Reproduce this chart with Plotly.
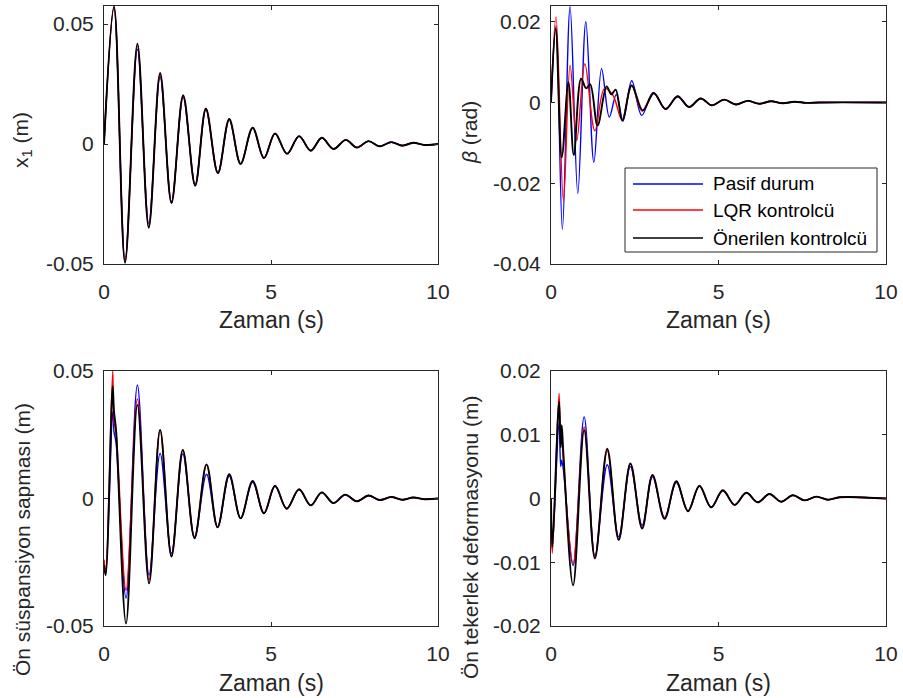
import plotly.graph_objects as go

# ---------------- data ----------------
series_names = ["Pasif durum", "LQR kontrolcü", "Önerilen kontrolcü"]
series_colors = ["#0000ff", "#ff0000", "#000000"]

x_tick_vals = [0, 5, 10]
x_tick_text = ["0", "5", "10"]

# Panel 1: x1 (m)
t_x1 = [0, 0.3, 0.63, 1.0, 1.34, 1.68, 2.02, 2.37, 2.73, 3.05, 3.41, 3.75, 4.09, 4.45, 4.79,
        5.12, 5.48, 5.84, 6.19, 6.52, 6.87, 7.24, 7.57, 7.92, 8.25, 8.6, 8.93, 9.26, 9.6, 10.0]
x1_pasif = [0, 0.0565, -0.0485, 0.0395, -0.0330, 0.0280, -0.0240, 0.0195, -0.0168, 0.0142, -0.0118,
            0.0100, -0.0082, 0.0066, -0.0058, 0.0043, -0.0040, 0.0032, -0.0027, 0.0025, -0.0020,
            0.0016, -0.0014, 0.0011, -0.0009, 0.0007, -0.0006, 0.0005, -0.0004, 0]
x1_lqr = [0, 0.0570, -0.0490, 0.0410, -0.0342, 0.0290, -0.0244, 0.0200, -0.0172, 0.0146, -0.0120,
          0.0102, -0.0083, 0.0067, -0.0058, 0.0044, -0.0040, 0.0033, -0.0028, 0.0025, -0.0021,
          0.0017, -0.0015, 0.0012, -0.0010, 0.0008, -0.0006, 0.0005, -0.0004, 0]
x1_oner = [0, 0.0573, -0.0495, 0.0418, -0.0349, 0.0296, -0.0246, 0.0203, -0.0174, 0.0148, -0.0122,
           0.0104, -0.0083, 0.0068, -0.0059, 0.0044, -0.0041, 0.0033, -0.0028, 0.0026, -0.0021,
           0.0017, -0.0015, 0.0012, -0.0010, 0.0008, -0.0007, 0.0005, -0.0004, 0]
x1_ticks = [-0.05, 0, 0.05]
x1_ticktext = ["-0.05", "0", "0.05"]

# Panel 2: beta (rad)
t_beta_pasif = [0, 0.15, 0.34, 0.57, 0.8, 1.04, 1.28, 1.51, 1.74, 1.95, 2.15, 2.41, 2.71, 3.05,
                3.42, 3.78, 4.12, 4.47, 4.8, 5.17, 5.52, 5.87, 6.22, 6.57, 6.92, 7.27, 7.62, 8.0, 10.0]
beta_pasif = [0, 0.0190, -0.0314, 0.0237, -0.0225, 0.0200, -0.0148, 0.0084, -0.0036, 0.0020,
              -0.0046, 0.0054, -0.0032, 0.0025, -0.0017, 0.0016, -0.0011, 0.0010, -0.0007, 0.0007,
              -0.0005, 0.0004, -0.0003, 0.0003, -0.0002, 0.0002, -0.0001, 0, 0]
t_beta_lqr = [0, 0.15, 0.37, 0.57, 0.77, 1.01, 1.31, 1.6, 1.85, 2.12, 2.4, 2.72, 3.06, 3.42, 3.78,
              4.12, 4.47, 4.8, 5.17, 5.52, 5.87, 6.22, 6.57, 6.92, 7.27, 7.62, 8.0, 10.0]
beta_lqr = [0, 0.0212, -0.0243, 0.0092, -0.0094, 0.0096, -0.0070, 0.0035, 0.0018, -0.0043, 0.0043,
            -0.0021, 0.0023, -0.0016, 0.0015, -0.0011, 0.0010, -0.0007, 0.0007, -0.0005, 0.0004,
            -0.0003, 0.0003, -0.0002, 0.0002, -0.0001, 0, 0]
t_beta_oner = [0, 0.14, 0.32, 0.52, 0.68, 0.9, 1.05, 1.17, 1.39, 1.66, 1.8, 1.93, 2.13, 2.41, 2.74,
               3.07, 3.42, 3.78, 4.12, 4.47, 4.8, 5.17, 5.52, 5.87, 6.22, 6.57, 6.92, 7.27, 7.62,
               8.0, 10.0]
beta_oner = [0, 0.0183, -0.0136, 0.0050, -0.0130, 0.0059, 0.0035, 0.0045, -0.0057, 0.0040, 0.0020,
             0.0032, -0.0045, 0.0042, -0.0020, 0.0023, -0.0016, 0.0015, -0.0011, 0.0010, -0.0007,
             0.0007, -0.0005, 0.0004, -0.0003, 0.0003, -0.0002, 0.0002, -0.0001, 0, 0]
beta_ticks = [-0.04, -0.02, 0, 0.02]
beta_ticktext = ["-0.04", "-0.02", "0", "0.02"]

# Panel 3: front suspension deflection (m)
t_susp = [0, 0.05, 0.26, 0.30, 0.36, 0.66, 1.0, 1.35, 1.68, 2.02, 2.36, 2.71, 3.07, 3.4, 3.75, 4.09,
          4.45, 4.79, 5.12, 5.47, 5.84, 6.19, 6.52, 6.87, 7.22, 7.57, 7.92, 8.25, 8.6, 8.93, 9.26,
          9.6, 10.0]
susp_pasif = [-0.026, -0.030, 0.034, 0.026, 0.022, -0.039, 0.0445, -0.030, 0.0177, -0.0215, 0.0175,
              -0.0150, 0.0095, -0.0112, 0.0088, -0.0078, 0.0064, -0.0058, 0.0048, -0.0040, 0.0034,
              -0.0027, 0.0023, -0.0018, 0.0014, -0.0011, 0.0011, -0.0006, 0.0006, -0.0005, 0.0004,
              -0.0003, 0]
susp_lqr = [-0.024, -0.028, 0.050, 0.030, 0.026, -0.036, 0.039, -0.032, 0.027, -0.0225, 0.019,
            -0.0155, 0.0132, -0.0112, 0.0094, -0.0078, 0.0068, -0.0058, 0.0050, -0.0040, 0.0035,
            -0.0027, 0.0024, -0.0018, 0.0015, -0.0011, 0.0012, -0.0006, 0.0006, -0.0005, 0.0004,
            -0.0003, 0]
susp_oner = [-0.026, -0.030, 0.044, 0.034, 0.027, -0.049, 0.0367, -0.0333, 0.0269, -0.0228, 0.019,
             -0.0156, 0.0134, -0.0113, 0.0095, -0.0078, 0.0069, -0.0058, 0.0050, -0.0040, 0.0036,
             -0.0027, 0.0024, -0.0018, 0.0015, -0.0011, 0.0012, -0.0006, 0.0006, -0.0005, 0.0004,
             -0.0003, 0]
susp_ticks = [-0.05, 0, 0.05]
susp_ticktext = ["-0.05", "0", "0.05"]

# Panel 4: front tyre deflection (m)
t_tyre = [0, 0.04, 0.24, 0.29, 0.32, 0.37, 0.66, 0.99, 1.31, 1.68, 2.02, 2.37, 2.72, 3.03, 3.39,
          3.74, 4.09, 4.43, 4.78, 5.13, 5.48, 5.83, 6.17, 6.52, 6.87, 7.22, 7.57, 7.92, 8.27, 8.62,
          10.0]
tyre_pasif = [0, -0.0080, 0.0120, 0.0050, 0.0060, 0.0045, -0.0105, 0.0128, -0.0090, 0.0053, -0.0060,
              0.0050, -0.0042, 0.0034, -0.0030, 0.0025, -0.0019, 0.0019, -0.0013, 0.0012, -0.0010,
              0.0009, -0.0006, 0.0007, -0.0005, 0.0005, -0.0003, 0.0003, -0.0002, 0.0002, 0]
tyre_lqr = [0, -0.0086, 0.0165, 0.0085, 0.0100, 0.0060, -0.0102, 0.0112, -0.0092, 0.0075, -0.0064,
            0.0054, -0.0046, 0.0036, -0.0031, 0.0026, -0.0020, 0.0020, -0.0014, 0.0013, -0.0010,
            0.0009, -0.0006, 0.0007, -0.0005, 0.0005, -0.0003, 0.0003, -0.0002, 0.0002, 0]
tyre_oner = [0, -0.0076, 0.0152, 0.0080, 0.0115, 0.0070, -0.0136, 0.0107, -0.0094, 0.0078, -0.0065,
             0.0055, -0.0047, 0.0037, -0.0032, 0.0027, -0.0020, 0.0020, -0.0014, 0.0013, -0.0010,
             0.0009, -0.0006, 0.0007, -0.0005, 0.0005, -0.0003, 0.0003, -0.0002, 0.0002, 0]
tyre_ticks = [-0.02, -0.01, 0, 0.01, 0.02]
tyre_ticktext = ["-0.02", "-0.01", "0", "0.01", "0.02"]

x_title = "Zaman (s)"
y_titles = ["x<sub>1</sub> (m)", "<i>β</i> (rad)", "Ön süspansiyon sapması (m)",
            "Ön tekerlek deformasyonu (m)"]

# ---------------- figure ----------------
W, H = 903, 698
FONT = "Liberation Sans, Arial, Helvetica, sans-serif"
AX = "#262626"
line_widths = [1.4, 1.4, 1.9]

fig = go.Figure()

panels = [
    ("x", "y", [(t_x1, x1_pasif), (t_x1, x1_lqr), (t_x1, x1_oner)]),
    ("x2", "y2", [(t_beta_pasif, beta_pasif), (t_beta_lqr, beta_lqr), (t_beta_oner, beta_oner)]),
    ("x3", "y3", [(t_susp, susp_pasif), (t_susp, susp_lqr), (t_susp, susp_oner)]),
    ("x4", "y4", [(t_tyre, tyre_pasif), (t_tyre, tyre_lqr), (t_tyre, tyre_oner)]),
]
for xa, ya, series in panels:
    for (tt, vv), name, col, lw in zip(series, series_names, series_colors, line_widths):
        fig.add_trace(go.Scatter(x=tt, y=vv, mode="lines", name=name, xaxis=xa, yaxis=ya,
                                 line=dict(color=col, width=lw, shape="spline", smoothing=1.0),
                                 showlegend=False, hoverinfo="skip"))


def px_x(p):
    return p / W


def px_y(p):
    return 1 - p / H


xdom_l = [px_x(104), px_x(438)]
xdom_r = [px_x(551), px_x(886)]
ydom_t = [px_y(264), px_y(6)]
ydom_b = [px_y(626), px_y(371)]

common = dict(showline=True, linecolor=AX, linewidth=1, mirror="ticks", ticks="inside",
              ticklen=4, tickcolor=AX, showgrid=False, zeroline=False, automargin=False,
              tickfont=dict(family=FONT, size=21, color=AX))


def xax(dom, anchor):
    return dict(domain=dom, anchor=anchor, range=[0, 10], tickvals=x_tick_vals,
                ticktext=x_tick_text, ticklabelstandoff=9, **common)


def yax(dom, anchor, rng, tv, tt):
    return dict(domain=dom, anchor=anchor, range=rng, tickvals=tv, ticktext=tt,
                ticklabelstandoff=5, **common)


fig.update_layout(
    width=W, height=H, margin=dict(l=0, r=0, t=0, b=0, pad=0, autoexpand=False),
    paper_bgcolor="white", plot_bgcolor="white", showlegend=False,
    xaxis=xax(xdom_l, "y"), yaxis=yax(ydom_t, "x", [-0.05, 0.0575], x1_ticks, x1_ticktext),
    xaxis2=xax(xdom_r, "y2"), yaxis2=yax(ydom_t, "x2", [-0.04, 0.0239], beta_ticks, beta_ticktext),
    xaxis3=xax(xdom_l, "y3"), yaxis3=yax(ydom_b, "x3", [-0.05, 0.05], susp_ticks, susp_ticktext),
    xaxis4=xax(xdom_r, "y4"), yaxis4=yax(ydom_b, "x4", [-0.02, 0.02], tyre_ticks, tyre_ticktext),
)

ann = []
for cx, cy in [(271, 320), (718.5, 320), (271, 683), (718.5, 683)]:
    ann.append(dict(x=px_x(cx), y=px_y(cy), xref="paper", yref="paper", text=x_title,
                    showarrow=False, xanchor="center", yanchor="middle",
                    font=dict(family=FONT, size=23, color=AX)))
for (cx, cy), txt in zip([(22, 140), (470, 133), (22, 540), (470, 537)], y_titles):
    ann.append(dict(x=px_x(cx), y=px_y(cy), xref="paper", yref="paper", text=txt,
                    showarrow=False, xanchor="center", yanchor="middle", textangle=-90,
                    font=dict(family=FONT, size=21, color=AX)))

# legend box (top-right panel)
shapes = [dict(type="rect", xref="paper", yref="paper", x0=px_x(625), x1=px_x(877),
               y0=px_y(252), y1=px_y(168), line=dict(color=AX, width=1), fillcolor="white",
               layer="above")]
for py, name, col in zip([184, 210, 238], series_names, series_colors):
    shapes.append(dict(type="line", xref="paper", yref="paper", x0=px_x(633), x1=px_x(703),
                       y0=px_y(py), y1=px_y(py), line=dict(color=col, width=1.6), layer="above"))
    ann.append(dict(x=px_x(711), y=px_y(py), xref="paper", yref="paper", text=name,
                    showarrow=False, xanchor="left", yanchor="middle",
                    font=dict(family=FONT, size=19, color="#000000")))

fig.update_layout(annotations=ann, shapes=shapes)
# remove the page's default body margin so the 903x698 figure fills the window exactly
fig.write_html("out.html", config={"displayModeBar": False, "staticPlot": True},
               post_script="document.body.style.margin='0';document.body.style.overflow='hidden';")
